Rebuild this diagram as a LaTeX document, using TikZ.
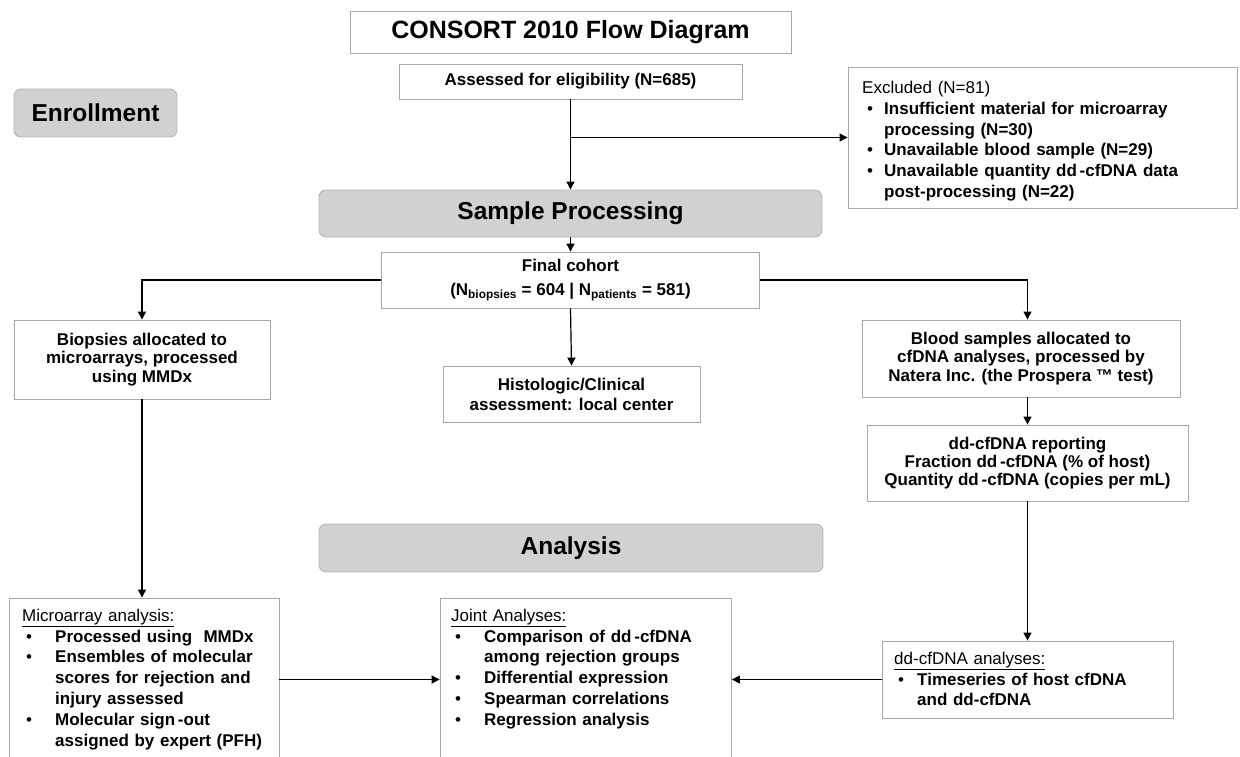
\documentclass[tikz,border=0pt]{standalone}
\usepackage{fontspec}
\setmainfont{Liberation Sans}
\usetikzlibrary{arrows.meta,calc}
\definecolor{boxgray}{HTML}{D1D1D1}
\definecolor{edgegray}{HTML}{A8A8A8}
\definecolor{roundedge}{HTML}{B8B8B8}
\newcommand\bitem[3]{\par\hangindent=#2\hangafter=1\noindent\makebox[#2][l]{\hspace{#1}{\mdseries\textbullet}}#3\par}
\newcommand\nl{\hfil\break}
\begin{document}
\begin{tikzpicture}[x=1pt,y=-1pt,
  box/.style={draw=edgegray, line width=0.9pt, fill=white, inner sep=0pt, align=center,
    font=\bfseries\fontsize{17}{18.3}\selectfont},
  phase/.style={draw=roundedge, line width=0.9pt, fill=boxgray, rounded corners=7pt, inner sep=0pt,
    font=\bfseries\fontsize{24.5}{28}\selectfont},
  txt/.style={anchor=north west, inner sep=0pt, align=left,
    font=\bfseries\fontsize{17}{20.8}\selectfont},
  conn/.style={line width=1.2pt},
  arr/.style={line width=1.2pt, -{Triangle[length=8pt,width=8pt]}}]
\useasboundingbox (0,0) rectangle (1240,757);
\clip (0,0) rectangle (1240,757);
\fill[white] (0,0) rectangle (1240,757);

% boxes
\node[box, minimum width=441pt, minimum height=42pt, font=\bfseries\fontsize{25}{30}\selectfont] (title) at (570.5,32) {CONSORT 2010 Flow Diagram};
\node[box, minimum width=343pt, minimum height=35pt] (assess) at (570.5,81.5) {Assessed for eligibility (N=685)};
\node[phase, minimum width=163pt, minimum height=48pt] (enroll) at (95.5,113) {Enrollment};
\node[box, minimum width=389pt, minimum height=141pt] (excl) at (1042.5,137.5) {};
\node[txt, text width=372pt] (excltxt) at (862,79.3) {\rule{0pt}{14pt}{\mdseries Excluded (N=81)}
  \bitem{5pt}{22pt}{Insufficient material for microarray\nl processing (N=30)}
  \bitem{5pt}{22pt}{Unavailable blood sample (N=29)}
  \bitem{5pt}{22pt}{Unavailable quantity dd\,-cfDNA data\nl post-processing (N=22)}};

\node[phase, minimum width=503pt, minimum height=47pt] (sample) at (570.5,213.5) {Sample Processing};
\node[box, minimum width=378pt, minimum height=56pt, font=\bfseries\fontsize{17}{24}\selectfont] (final) at (570.5,280)
  {Final cohort\\(N\textsubscript{biopsies} = 604 | N\textsubscript{patients} = 581)};
\node[box, minimum width=256pt, minimum height=79pt] (biop) at (142,359.5)
  {Biopsies allocated to\\microarrays, processed\\using MMDx};
\node[box, minimum width=257pt, minimum height=56pt, font=\bfseries\fontsize{17}{20}\selectfont] (hist) at (571.5,394)
  {Histologic/Clinical\\assessment: local center};
\node[box, minimum width=318pt, minimum height=77pt] (blood) at (1021,358.5)
  {Blood samples allocated to\\cfDNA analyses, processed by\\Natera Inc. (the Prospera ™ test)};
\node[box, minimum width=321pt, minimum height=76pt] (rep) at (1027.5,463)
  {dd-cfDNA reporting\\Fraction dd\,-cfDNA (\% of host)\\Quantity dd\,-cfDNA (copies per mL)};

\node[phase, minimum width=504pt, minimum height=48pt] (analysis) at (571,548) {Analysis};

\node[box, minimum width=270pt, minimum height=200pt] (micro) at (144,698) {};
\node[txt, text width=262pt] (microtxt) at (22,607) {\rule{0pt}{14pt}{\mdseries\underline{Microarray analysis:}}
  \bitem{4pt}{33pt}{Processed using~ MMDx}
  \bitem{4pt}{33pt}{Ensembles of molecular\nl scores for rejection and\nl injury assessed}
  \bitem{4pt}{33pt}{Molecular sign\,-out\nl assigned by expert (PFH)}};

\node[box, minimum width=291.5pt, minimum height=200pt] (joint) at (585.75,698) {};
\node[txt, text width=280pt] (jointtxt) at (451,607) {\rule{0pt}{14pt}{\mdseries\underline{Joint Analyses:}}
  \bitem{4pt}{33pt}{Comparison of dd\,-cfDNA\nl among rejection groups}
  \bitem{4pt}{33pt}{Differential expression}
  \bitem{4pt}{33pt}{Spearman correlations}
  \bitem{4pt}{33pt}{Regression analysis}};

\node[box, minimum width=291pt, minimum height=77pt] (dd) at (1027.5,679.5) {};
\node[txt, text width=280pt] (ddtxt) at (894,650) {\rule{0pt}{14pt}{\mdseries\underline{dd-cfDNA analyses:}}
  \bitem{4pt}{23pt}{Timeseries of host cfDNA\nl and dd-cfDNA}};

% connectors
\coordinate (branch) at (assess.south |- excl.west);
\draw[arr] (assess.south) -- (sample.north);
\draw[arr] (branch) -- (excl.west);
\draw[arr] (sample.south) -- (final.north);
\draw[arr] (final.west) -| (biop.north);
\draw[arr] (final.east) -| (rep.north |- blood.north);
\draw[arr] (final.south) -- (hist.north);
\draw[arr] (rep.north |- blood.south) -- (rep.north);
\draw[arr] (rep.south) -- (dd.north);
\draw[arr] (biop.south) -- (biop.south |- micro.north);
\draw[arr] (micro.east |- dd.west) -- (joint.west |- dd.west);
\draw[arr] (dd.west) -- (joint.east |- dd.west);
\end{tikzpicture}
\end{document}
